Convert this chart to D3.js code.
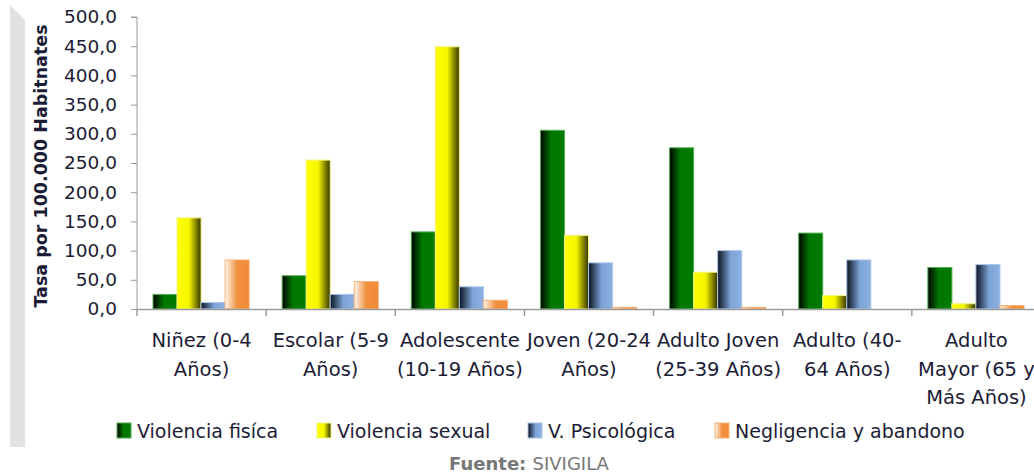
<!DOCTYPE html>
<html>
<head>
<meta charset="utf-8">
<script src="https://d3js.org/d3.v7.min.js"></script>
<style>
  body { margin: 0; background: #fff; }
  svg text { font-family: 'DejaVu Sans', Verdana, sans-serif; }
</style>
</head>
<body>
<svg width="1034" height="476"></svg>
<script>
  // Data
  const categories = [
    ['Niñez (0-4', 'Años)'],
    ['Escolar (5-9', 'Años)'],
    ['Adolescente', '(10-19 Años)'],
    ['Joven (20-24', 'Años)'],
    ['Adulto Joven', '(25-39 Años)'],
    ['Adulto (40-', '64 Años)'],
    ['Adulto', 'Mayor (65 y', 'Más Años)']
  ];
  const seriesNames = ['Violencia fisíca', 'Violencia sexual', 'V. Psicológica', 'Negligencia y abandono'];
  const fisica      = [25, 57, 132, 306, 276, 130, 71];
  const sexual      = [156, 255, 449, 126, 63, 23, 9];
  const psicologica = [11, 25, 38, 79, 100, 84, 76];
  const negligencia = [84, 47, 15, 3, 3, 0, 6];
  const yTicks = [0, 50, 100, 150, 200, 250, 300, 350, 400, 450, 500];

  const seriesValues = [fisica, sexual, psicologica, negligencia];

  // gradient stops per series (left -> right of each bar)
  const grads = [
    {id: 'gGreen',  stroke: '#4fae4f', stops: [['0%', '#000'], ['45%', '#007800'], ['100%', '#007a00']]},
    {id: 'gYellow', stroke: '#f5f57a', stops: [['0%', '#ffff00'], ['50%', '#f5f500'], ['100%', '#333300']]},
    {id: 'gBlue',   stroke: '#a8c4ea', stops: [['0%', '#0b1220'], ['55%', '#7ea5d8'], ['100%', '#8bb0e0']]},
    {id: 'gOrange', stroke: '#f7b27a', stops: [['0%', '#fff6ee'], ['50%', '#f0913f'], ['100%', '#f28a36']]}
  ];

  const textColor = '#1c1c36';
  const margin = {top: 17, left: 137};
  const width = 1041 - margin.left;
  const height = 309 - margin.top;

  const svg = d3.select('svg');
  const defs = svg.append('defs');
  grads.forEach(g => {
    const lg = defs.append('linearGradient').attr('id', g.id)
      .attr('x1', '0%').attr('x2', '100%').attr('y1', '0%').attr('y2', '0%');
    g.stops.forEach(s => lg.append('stop').attr('offset', s[0]).attr('stop-color', s[1]));
  });

  // grey side panel on the left
  svg.append('path')
    .attr('d', 'M10,5 L25,20 L25,447 L10,447 Z')
    .attr('fill', '#e2e2e2');

  const x = d3.scaleBand().domain(d3.range(categories.length)).range([0, width]);
  const y = d3.scaleLinear().domain([0, 500]).range([height, 0]);
  const xs = d3.scaleBand().domain(d3.range(4)).range([16, x.bandwidth() - 17]);

  const chart = svg.append('g').attr('transform', 'translate(' + margin.left + ',' + margin.top + ')');

  // y axis
  const yAxis = d3.axisLeft(y).tickValues(yTicks).tickSize(6).tickPadding(14)
    .tickFormat(d => d3.format('.1f')(d).replace('.', ','));
  const gy = chart.append('g').call(yAxis);
  gy.select('.domain').attr('stroke', '#9a9a9a').attr('d', 'M-6,0H0V' + height);
  gy.selectAll('line').attr('stroke', '#9a9a9a');
  gy.selectAll('text').attr('font-size', 18.5).attr('fill', textColor)
    .style('font-family', "'DejaVu Sans', Verdana, sans-serif");

  // bars
  seriesValues.forEach((vals, si) => {
    chart.selectAll(null)
      .data(vals).enter()
      .append('rect')
      .attr('x', (d, i) => x(i) + xs(si))
      .attr('y', d => y(d))
      .attr('width', xs.bandwidth())
      .attr('height', d => height - y(d))
      .attr('fill', 'url(#' + grads[si].id + ')')
      .attr('stroke', grads[si].stroke)
      .attr('stroke-width', 1);
  });

  // x axis
  const xAxis = d3.axisBottom(x).tickSize(0).tickFormat('');
  const gx = chart.append('g').attr('transform', 'translate(0,' + height + ')').call(xAxis);
  gx.select('.domain').attr('stroke', '#9a9a9a').attr('stroke-width', 1.5);
  chart.append('g').selectAll('line')
    .data(d3.range(categories.length + 1)).enter()
    .append('line')
    .attr('x1', i => i * x.step()).attr('x2', i => i * x.step())
    .attr('y1', height).attr('y2', height + 7)
    .attr('stroke', '#9a9a9a').attr('stroke-width', 1.5);

  const xl = chart.append('g').selectAll('text')
    .data(categories).enter()
    .append('text')
    .attr('text-anchor', 'middle')
    .attr('font-size', 19.5)
    .attr('fill', textColor)
    .attr('transform', (d, i) => 'translate(' + (x(i) + x.bandwidth() / 2) + ',' + (height + 38) + ')');
  xl.selectAll('tspan').data(d => d).enter()
    .append('tspan')
    .attr('x', 0)
    .attr('y', (d, i) => i * 28.5)
    .text(d => d);

  // y axis title
  svg.append('text')
    .attr('transform', 'translate(47,166) rotate(-90)')
    .attr('text-anchor', 'middle')
    .attr('font-size', 17.5)
    .attr('font-weight', 'bold')
    .attr('fill', textColor)
    .text('Tasa por 100.000 Habitnates');

  // legend
  const legendX = [117, 317, 528, 715];
  const leg = svg.append('g').selectAll('g')
    .data(seriesNames).enter()
    .append('g')
    .attr('transform', (d, i) => 'translate(' + legendX[i] + ',423)');
  leg.append('rect')
    .attr('width', 14).attr('height', 15)
    .attr('fill', (d, i) => 'url(#' + grads[i].id + ')')
    .attr('stroke', (d, i) => grads[i].stroke);
  leg.append('text')
    .attr('x', 20).attr('y', 15)
    .attr('font-size', 19)
    .attr('fill', textColor)
    .text(d => d);

  // source
  const src = svg.append('text')
    .attr('x', 529).attr('y', 470)
    .attr('text-anchor', 'middle')
    .attr('font-size', 18)
    .attr('fill', '#777');
  src.append('tspan').attr('font-weight', 'bold').text('Fuente: ');
  src.append('tspan').text('SIVIGILA');
</script>
</body>
</html>
